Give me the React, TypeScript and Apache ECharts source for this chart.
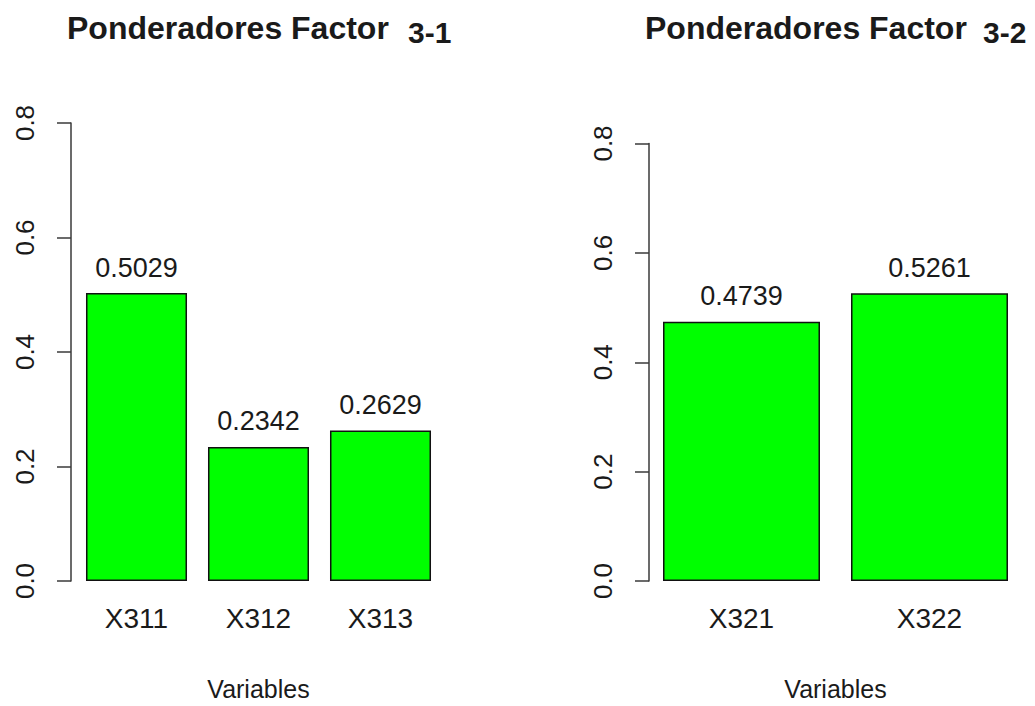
import React, { useEffect, useRef } from "react";
import * as echarts from "echarts";

const categories1 = ["X311", "X312", "X313"];
const values1 = [0.5029, 0.2342, 0.2629];
const categories2 = ["X321", "X322"];
const values2 = [0.4739, 0.5261];
const titleMain = "Ponderadores Factor";
const titleSuffix1 = "3-1";
const titleSuffix2 = "3-2";
const axisName = "Variables";
const yMin = 0;
const yMax = 0.8;
const yStep = 0.2;

const FONT = "'Liberation Sans', Arial, Helvetica, sans-serif";
const TEXT = "#1a1a1a";
const LINE = "#3a3a3a";

function yAxisFor(gridIndex: number, offset: number) {
  return {
    type: "value",
    gridIndex,
    min: yMin,
    max: yMax,
    interval: yStep,
    offset,
    splitLine: { show: false },
    axisLine: { show: true, lineStyle: { color: LINE, width: 1.5 } },
    axisTick: { show: true, length: 14, lineStyle: { color: LINE, width: 1.5 } },
    axisLabel: {
      rotate: 90,
      margin: 33,
      fontSize: 26,
      fontFamily: FONT,
      color: TEXT,
      formatter: (v: number) => v.toFixed(1),
    },
  };
}

function xAxisFor(gridIndex: number, data: string[]) {
  return {
    type: "category",
    gridIndex,
    data,
    axisLine: { show: false },
    axisTick: { show: false },
    axisLabel: { margin: 23, fontSize: 28, fontFamily: FONT, color: TEXT },
    name: axisName,
    nameLocation: "middle",
    nameGap: 95,
    nameTextStyle: { fontSize: 25, fontFamily: FONT, color: TEXT },
  };
}

function barSeries(idx: number, data: number[], gap: string) {
  return {
    type: "bar",
    xAxisIndex: idx,
    yAxisIndex: idx,
    data,
    barCategoryGap: gap,
    itemStyle: { color: "#00ff00", borderColor: "#111", borderWidth: 1.5 },
    label: {
      show: true,
      position: "top",
      distance: 12,
      fontSize: 27,
      fontFamily: FONT,
      color: TEXT,
      formatter: (p: any) => p.value.toFixed(4),
    },
  };
}

export default function App() {
  const ref = useRef<HTMLDivElement>(null);
  useEffect(() => {
    if (!ref.current) return;
    const chart = echarts.init(ref.current, null, { renderer: "svg" });
    chart.setOption({
      animation: false,
      backgroundColor: "#ffffff",
      grid: [
        { left: 75.5, top: 123, width: 366, height: 461 },
        { left: 647.5, top: 143.5, width: 376, height: 440.5 },
      ],
      xAxis: [xAxisFor(0, categories1), xAxisFor(1, categories2)],
      yAxis: [yAxisFor(0, 4.5), yAxisFor(1, -1.5)],
      series: [barSeries(0, values1, "17.2%"), barSeries(1, values2, "16.5%")],
      graphic: [
        {
          type: "text",
          x: 67,
          y: 28,
          style: { text: titleMain, font: `bold 32px ${FONT}`, fill: TEXT, verticalAlign: "middle" },
        },
        {
          type: "text",
          x: 408,
          y: 32,
          style: { text: titleSuffix1, font: `bold 30px ${FONT}`, fill: TEXT, verticalAlign: "middle" },
        },
        {
          type: "text",
          x: 645,
          y: 28,
          style: { text: titleMain, font: `bold 32px ${FONT}`, fill: TEXT, verticalAlign: "middle" },
        },
        {
          type: "text",
          x: 983,
          y: 32,
          style: { text: titleSuffix2, font: `bold 30px ${FONT}`, fill: TEXT, verticalAlign: "middle" },
        },
      ],
    });
    return () => chart.dispose();
  }, []);
  return (
    <div
      ref={ref}
      style={{ position: "fixed", left: 0, top: 0, width: 1035, height: 706, background: "#fff" }}
    />
  );
}
